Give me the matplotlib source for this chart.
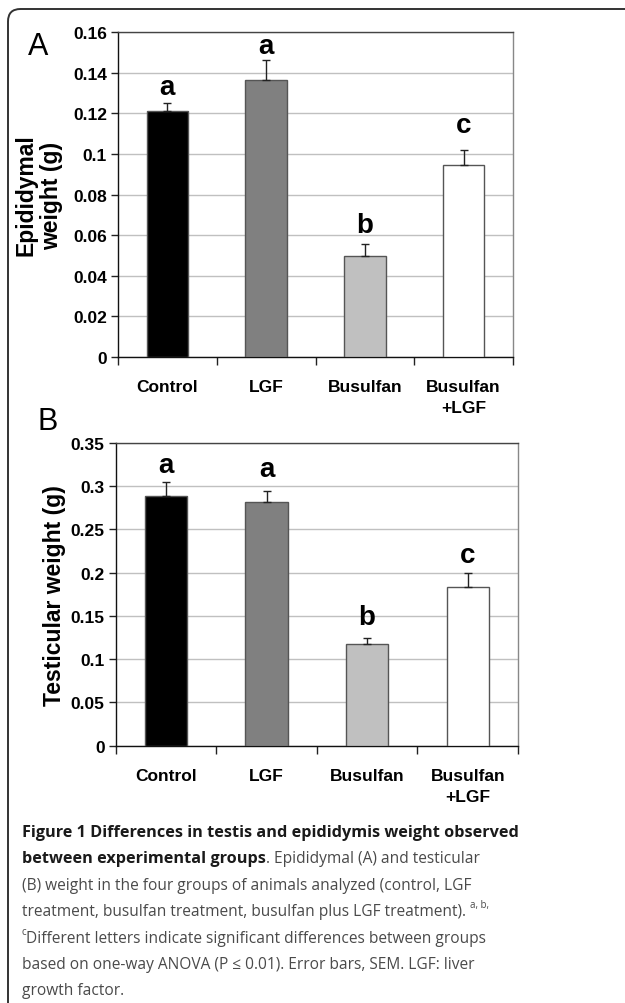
import numpy as np
import matplotlib
matplotlib.use("Agg")
import matplotlib.pyplot as plt
from matplotlib.patches import FancyBboxPatch

# Data
groupes = ["Control", "LGF", "Busulfan", "Busulfan\n+LGF"]
couleurs = ["#000000", "#808080", "#c0c0c0", "#ffffff"]

epid_moy = [0.1213, 0.1362, 0.0499, 0.0947]
epid_sem = [0.0039, 0.0102, 0.0059, 0.0074]
epid_lettres = ["a", "a", "b", "c"]
epid_y_lettres = [0.1295, 0.1497, 0.0615, 0.1108]

test_moy = [0.289, 0.2822, 0.1172, 0.1839]
test_sem = [0.0156, 0.0123, 0.0077, 0.0158]
test_lettres = ["a", "a", "b", "c"]
test_y_lettres = [0.3161, 0.3115, 0.1407, 0.2128]

W, H = 625, 1004
fig = plt.figure(figsize=(W / 100, H / 100), dpi=100)

POLICE = "Liberation Sans"


def panneau(rect, moy, sem, lettres, y_lettres, ymax, pas, ylabel, ylab_x):
    ax = fig.add_axes(rect)
    x = np.arange(len(moy))
    ax.bar(x, moy, width=0.42, color=couleurs, edgecolor="#555555", linewidth=1.0, zorder=3)
    ax.errorbar(x, moy, yerr=[np.zeros(len(sem)), sem], fmt="none", ecolor="#222222",
                elinewidth=1.0, capsize=3, capthick=1.0, zorder=4)
    for xi, l, yl in zip(x, lettres, y_lettres):
        ax.text(xi, yl, l, ha="center", va="baseline", fontsize=20, fontweight="bold",
                family=POLICE, zorder=5)
    ax.set_xlim(-0.5, len(moy) - 0.5)
    ax.set_ylim(0, ymax)
    ticks = np.arange(0, ymax + pas / 2, pas)
    ax.set_yticks(ticks)
    ax.set_yticklabels([("%g" % round(t, 3)) for t in ticks])
    ax.yaxis.grid(True, color="#c0c0c0", linewidth=1.0, zorder=0)
    ax.set_axisbelow(True)
    ax.set_xticks(x)
    ax.set_xticklabels(groupes, fontsize=12.5, fontweight="bold", family=POLICE, va="top",
                       linespacing=1.5)
    ax.tick_params(axis="x", which="major", length=0, pad=16)
    ax.set_xticks(np.arange(-0.5, len(moy)), minor=True)
    ax.tick_params(axis="x", which="minor", length=6, width=1, color="#222222")
    ax.tick_params(axis="y", length=5, width=1, color="#222222", labelsize=12.5, pad=3)
    for t in ax.get_yticklabels():
        t.set_fontweight("bold")
        t.set_family(POLICE)
    ax.spines["left"].set_color("#111111")
    ax.spines["bottom"].set_color("#111111")
    ax.spines["top"].set_color("#444444")
    ax.spines["right"].set_color("#888888")
    for s in ax.spines.values():
        s.set_linewidth(1.0)
    fig.text(ylab_x, rect[1] + rect[3] / 2, ylabel, rotation=90, ha="center", va="center",
             fontsize=16.5, fontweight="bold", family=POLICE, linespacing=1.15)
    return ax


panneau([118 / W, 1 - 358 / H, 395 / W, 325 / H], epid_moy, epid_sem, epid_lettres,
        epid_y_lettres, 0.16, 0.02, "Epididymal\nweight (g)", 39 / W)
panneau([115.7 / W, 1 - 746.7 / H, 402.3 / W, 302.7 / H], test_moy, test_sem, test_lettres,
        test_y_lettres, 0.35, 0.05, "Testicular weight (g)", 55 / W)

fig.text(28 / W, 1 - 47 / H, "A", fontsize=22, family=POLICE, va="center", ha="left")
fig.text(37 / W, 1 - 422 / H, "B", fontsize=22, family=POLICE, va="center", ha="left")

# cadre arrondi
cadre = FancyBboxPatch((8 / W, -0.05), 1.1, 1 - 10 / H + 0.05,
                       boxstyle="round,pad=0,rounding_size=0.02",
                       transform=fig.transFigure, facecolor="none",
                       edgecolor="#333333", linewidth=1.4, clip_on=False,
                       mutation_aspect=W / H)
fig.patches.append(cadre)

# legende
CAP = "Open Sans"
gris = "#4a4a4a"
x0 = 21.7 / W
lignes_y = [836.7, 862.7, 890, 916, 943.3, 969, 995]
fig.canvas.draw()
rend = fig.canvas.get_renderer()


def morceaux(y, parts, x=x0):
    for txt, kw in parts:
        t = fig.text(x, 1 - y / H, txt, va="baseline", ha="left", family=CAP, **kw)
        bb = t.get_window_extent(renderer=rend)
        x += bb.width / W
    return x


gras = dict(fontsize=11.7, fontweight="bold", color="#1a1a1a")
norm = dict(fontsize=11.2, color=gris)
sup = dict(fontsize=7, color=gris)

morceaux(lignes_y[0], [("Figure 1 Differences in testis and epididymis weight observed", gras)])
morceaux(lignes_y[1], [("between experimental groups", gras),
                       (". Epididymal (A) and testicular", norm)])
morceaux(lignes_y[2], [("(B) weight in the four groups of animals analyzed (control, LGF", norm)])
xf = morceaux(lignes_y[3], [("treatment, busulfan treatment, busulfan plus LGF treatment). ", norm)])
# exposants
fig.text(xf, 1 - (lignes_y[3] - 8) / H, "a, b,", va="baseline", ha="left", family=CAP, **sup)
xc = morceaux(lignes_y[4] - 8, [("c", sup)])
morceaux(lignes_y[4], [("Different letters indicate significant differences between groups", norm)], x=xc)
morceaux(lignes_y[5], [("based on one-way ANOVA (P \u2264 0.01). Error bars, SEM. LGF: liver", norm)])
morceaux(lignes_y[6], [("growth factor.", norm)])

fig.savefig("out.png", dpi=100)
